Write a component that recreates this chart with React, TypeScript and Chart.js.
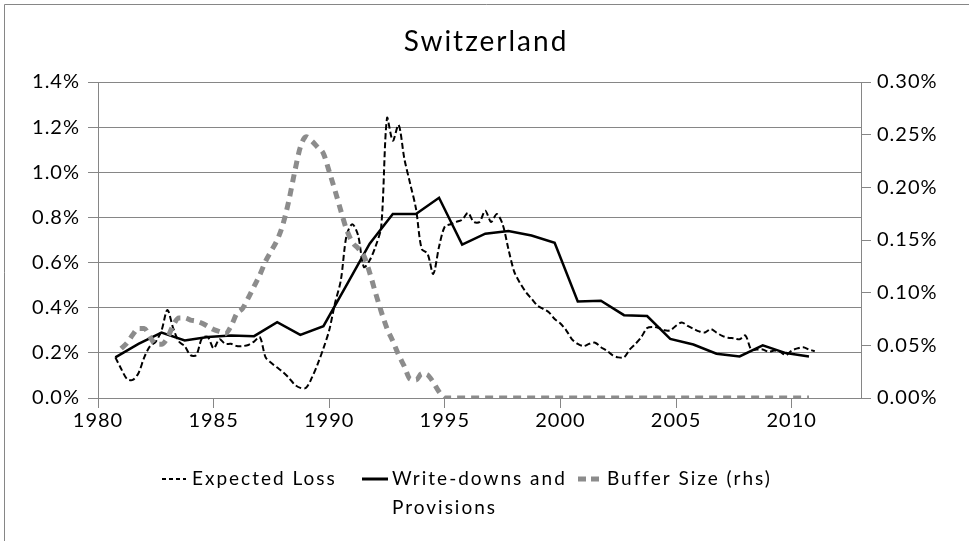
import React, { useEffect, useRef } from 'react';
import { Chart, registerables } from 'chart.js';

Chart.register(...registerables);

// ---------------- data ----------------
const TITLE = 'Switzerland';

const X_TICK_YEARS = [1980, 1985, 1990, 1995, 2000, 2005, 2010];
const LEFT_TICKS = [0, 0.2, 0.4, 0.6, 0.8, 1.0, 1.2, 1.4];
const LEFT_TICK_LABELS = ['0.0%', '0.2%', '0.4%', '0.6%', '0.8%', '1.0%', '1.2%', '1.4%'];
const RIGHT_TICKS = [0, 0.05, 0.1, 0.15, 0.2, 0.25, 0.3];
const RIGHT_TICK_LABELS = ['0.00%', '0.05%', '0.10%', '0.15%', '0.20%', '0.25%', '0.30%'];

// Expected Loss (% , quarterly, first quarter = 1980 Q4)
const EL_START = 1980.75;
const EXPECTED_LOSS = [
  0.18,
  0.13, 0.085, 0.08, 0.11, // 1981
  0.18, 0.23, 0.25, 0.30, // 1982
  0.39, 0.31, 0.25, 0.23, // 1983
  0.19, 0.19, 0.265, 0.27, // 1984
  0.22, 0.26, 0.24, 0.24, // 1985
  0.23, 0.23, 0.235, 0.25, // 1986
  0.27, 0.18, 0.155, 0.135, // 1987
  0.115, 0.09, 0.06, 0.045, // 1988
  0.045, 0.09, 0.15, 0.22, // 1989
  0.30, 0.42, 0.52, 0.72, // 1990
  0.77, 0.72, 0.58, 0.61, // 1991
  0.67, 0.76, 1.24, 1.14, // 1992
  1.21, 1.06, 0.95, 0.84, // 1993
  0.66, 0.64, 0.55, 0.67, // 1994
  0.76, 0.77, 0.78, 0.79, // 1995
  0.82, 0.78, 0.78, 0.83, // 1996
  0.78, 0.815, 0.77, 0.66, // 1997
  0.56, 0.51, 0.47, 0.44, // 1998
  0.41, 0.395, 0.38, 0.35, // 1999
  0.33, 0.30, 0.26, 0.24, // 2000
  0.23, 0.24, 0.245, 0.225, // 2001
  0.21, 0.19, 0.18, 0.18, // 2002
  0.215, 0.24, 0.27, 0.31, // 2003
  0.315, 0.31, 0.30, 0.30, // 2004
  0.32, 0.335, 0.32, 0.307, // 2005
  0.295, 0.29, 0.305, 0.29, // 2006
  0.275, 0.267, 0.265, 0.26, // 2007
  0.277, 0.215, 0.215, 0.215, // 2008
  0.205, 0.21, 0.205, 0.19, // 2009
  0.21, 0.22, 0.225, 0.215, // 2010
  0.207, // 2011
];

// Write-downs and Provisions (%, annual, first point = 1980 Q4)
const WD_START = 1980.75;
const WRITE_DOWNS = [
  0.18, 0.24, 0.29, 0.255, 0.27, 0.277, 0.274, 0.336, 0.28, 0.318,
  0.50, 0.684, 0.815, 0.815, 0.887, 0.68, 0.728, 0.74, 0.72, 0.688,
  0.428, 0.431, 0.367, 0.363, 0.262, 0.237, 0.196, 0.184, 0.233, 0.199,
  0.184,
];

// Buffer Size (rhs, %, quarterly, first quarter = 1981 Q1)
const BUF_START = 1981.0;
const BUFFER_SIZE = [
  0.047, 0.052, 0.060, 0.066, // 1981
  0.066, 0.058, 0.051, 0.051, // 1982
  0.057, 0.069, 0.076, 0.076, // 1983
  0.074, 0.073, 0.071, 0.068, // 1984
  0.065, 0.063, 0.061, 0.068, // 1985
  0.080, 0.085, 0.095, 0.106, // 1986
  0.117, 0.130, 0.140, 0.150, // 1987
  0.165, 0.187, 0.214, 0.238, // 1988
  0.248, 0.244, 0.238, 0.232, // 1989
  0.215, 0.197, 0.178, 0.160, // 1990
  0.148, 0.142, 0.135, 0.119, // 1991
  0.100, 0.082, 0.066, 0.054, // 1992
  0.041, 0.030, 0.018, 0.017, // 1993
  0.023, 0.022, 0.015, 0.006, // 1994
  0, 0, 0, 0, // 1995
  0, 0, 0, 0, // 1996
  0, 0, 0, 0, // 1997
  0, 0, 0, 0, // 1998
  0, 0, 0, 0, // 1999
  0, 0, 0, 0, // 2000
  0, 0, 0, 0, // 2001
  0, 0, 0, 0, // 2002
  0, 0, 0, 0, // 2003
  0, 0, 0, 0, // 2004
  0, 0, 0, 0, // 2005
  0, 0, 0, 0, // 2006
  0, 0, 0, 0, // 2007
  0, 0, 0, 0, // 2008
  0, 0, 0, 0, // 2009
  0, 0, 0, 0, // 2010
];

const SERIES_NAMES = ['Expected Loss', 'Write-downs and', 'Provisions', 'Buffer Size (rhs)'];

// ---------------- styling ----------------
const W = 969;
const H = 541;
const FONT = "Lato, 'Open Sans', sans-serif";
const AXIS_GRAY = '#868686';
const BUF_GRAY = '#8c8c8c';
const TICK_SIZE = 20;

const toPoints = (start: number, step: number, vals: number[]) =>
  vals.map((v, i) => ({ x: start + i * step, y: v }));

const spacingPlugin = {
  id: 'spacing',
  beforeDraw(chart: any) {
    (chart.ctx as any).letterSpacing = '1px';
  },
};

const decorPlugin = {
  id: 'decor',
  afterDraw(chart: any) {
    const ctx = chart.ctx as any;
    ctx.save();
    // partial frame (left + top)
    ctx.strokeStyle = AXIS_GRAY;
    ctx.lineWidth = 1;
    ctx.beginPath();
    ctx.moveTo(4.5, H);
    ctx.lineTo(4.5, 4.5);
    ctx.lineTo(W, 4.5);
    ctx.stroke();

    // title
    ctx.fillStyle = '#000';
    ctx.letterSpacing = '2px';
    ctx.font = `28px ${FONT}`;
    ctx.textAlign = 'center';
    ctx.textBaseline = 'middle';
    ctx.fillText(TITLE, 486, 42);

    // legend
    ctx.letterSpacing = '2px';
    ctx.font = `19px ${FONT}`;
    ctx.textAlign = 'left';
    const y1 = 479;
    const y2 = 508;
    // Expected Loss
    ctx.strokeStyle = '#000';
    ctx.lineWidth = 2;
    ctx.setLineDash([4, 3]);
    ctx.beginPath();
    ctx.moveTo(162, y1);
    ctx.lineTo(186, y1);
    ctx.stroke();
    ctx.fillText(SERIES_NAMES[0], 192, y1);
    // Write-downs
    ctx.setLineDash([]);
    ctx.lineWidth = 3;
    ctx.beginPath();
    ctx.moveTo(362, y1);
    ctx.lineTo(388, y1);
    ctx.stroke();
    ctx.fillText(SERIES_NAMES[1], 392, y1);
    ctx.fillText(SERIES_NAMES[2], 392, y2);
    // Buffer
    ctx.strokeStyle = BUF_GRAY;
    ctx.lineWidth = 5;
    ctx.setLineDash([8, 5]);
    ctx.beginPath();
    ctx.moveTo(578, y1);
    ctx.lineTo(601, y1);
    ctx.stroke();
    ctx.setLineDash([]);
    ctx.fillText(SERIES_NAMES[3], 607, y1);
    ctx.restore();
    ctx.letterSpacing = '0px';
  },
};

export default function App() {
  const ref = useRef<HTMLCanvasElement | null>(null);

  useEffect(() => {
    if (!ref.current) return;
    const chart = new Chart(ref.current, {
      type: 'line',
      data: {
        datasets: [
          {
            label: 'Expected Loss',
            data: toPoints(EL_START, 0.25, EXPECTED_LOSS),
            yAxisID: 'y',
            borderColor: '#000',
            borderWidth: 2,
            borderDash: [6, 3],
            pointRadius: 0,
            tension: 0.3,
            fill: false,
            order: 2,
          },
          {
            label: 'Write-downs and Provisions',
            data: toPoints(WD_START, 1, WRITE_DOWNS),
            yAxisID: 'y',
            borderColor: '#000',
            borderWidth: 2.5,
            pointRadius: 0,
            tension: 0,
            fill: false,
            order: 1,
          },
          {
            label: 'Buffer Size (rhs)',
            data: toPoints(BUF_START, 0.25, BUFFER_SIZE),
            yAxisID: 'y1',
            borderColor: BUF_GRAY,
            borderWidth: 5,
            borderDash: [8, 6],
            borderCapStyle: 'butt',
            pointRadius: 0,
            cubicInterpolationMode: 'monotone',
            fill: false,
            order: 0,
          },
        ],
      },
      options: {
        responsive: false,
        animation: false,
        events: [],
        layout: { padding: { top: 82, left: 0, right: 0, bottom: 0 } },
        plugins: {
          legend: { display: false },
          title: { display: false },
          tooltip: { enabled: false },
        },
        scales: {
          x: {
            type: 'linear',
            min: 1980,
            max: 2013,
            afterFit: (s: any) => {
              s.height = 143;
            },
            afterBuildTicks: (s: any) => {
              s.ticks = X_TICK_YEARS.map((v) => ({ value: v }));
            },
            ticks: {
              callback: (v: any) => String(v),
              color: '#000',
              font: { family: FONT, size: TICK_SIZE },
              padding: 1,
              maxRotation: 0,
              autoSkip: false,
            },
            grid: {
              drawOnChartArea: false,
              drawTicks: true,
              tickLength: 10,
              color: AXIS_GRAY,
            },
            border: { color: AXIS_GRAY },
          },
          y: {
            position: 'left',
            min: 0,
            max: 1.4,
            afterFit: (s: any) => {
              s.width = 98;
            },
            afterBuildTicks: (s: any) => {
              s.ticks = LEFT_TICKS.map((v) => ({ value: v }));
            },
            ticks: {
              callback: (_v: any, i: number) => LEFT_TICK_LABELS[i],
              color: '#000',
              font: { family: FONT, size: TICK_SIZE },
              padding: 8,
            },
            grid: {
              color: AXIS_GRAY,
              tickLength: 10,
            },
            border: { color: AXIS_GRAY },
          },
          y1: {
            position: 'right',
            min: 0,
            max: 0.3,
            afterFit: (s: any) => {
              s.width = 108;
            },
            afterBuildTicks: (s: any) => {
              s.ticks = RIGHT_TICKS.map((v) => ({ value: v }));
            },
            ticks: {
              callback: (_v: any, i: number) => RIGHT_TICK_LABELS[i],
              color: '#000',
              font: { family: FONT, size: TICK_SIZE },
              padding: 6,
            },
            grid: {
              drawOnChartArea: false,
              tickLength: 10,
              color: AXIS_GRAY,
            },
            border: { color: AXIS_GRAY },
          },
        },
      },
      plugins: [spacingPlugin, decorPlugin],
    });
    return () => chart.destroy();
  }, []);

  return (
    <div style={{ position: 'absolute', left: 0, top: 0, width: W, height: H, background: '#fff' }}>
      <canvas ref={ref} width={W} height={H} style={{ display: 'block', width: W, height: H }} />
    </div>
  );
}
